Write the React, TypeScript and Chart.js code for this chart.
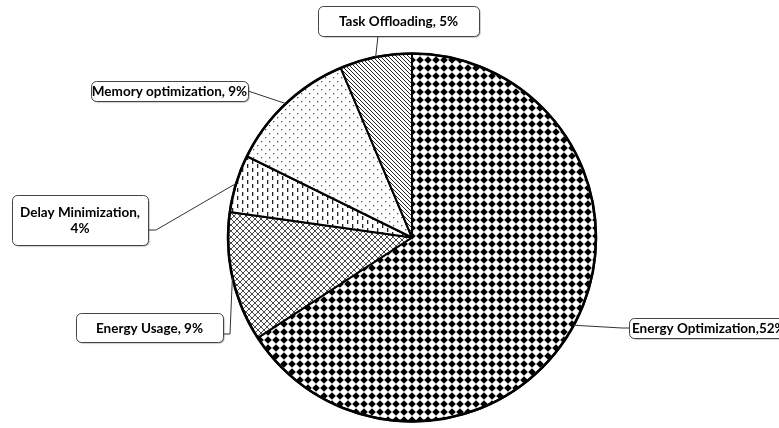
import { useEffect, useRef } from "react";
import { Chart, registerables } from "chart.js";

Chart.register(...registerables);

// Research-focus shares, clockwise from 12 o'clock
const categories = [
  "Energy Optimization",
  "Energy Usage",
  "Delay Minimization",
  "Memory optimization",
  "Task Offloading",
];
const shares = [52, 9, 4, 9, 5];
// separator between the name and its percentage in each callout
const separators = [",", ", ", ", ", ", ", ", "];

type Callout = {
  x: number;
  y: number;
  w: number;
  h: number;
  align: "left" | "center";
  from: [number, number];
  bend?: [number, number];
  wrap?: boolean;
};

// Callout boxes and where their leader lines leave them
const callouts: Callout[] = [
  { x: 629, y: 318, w: 170, h: 20, align: "left", from: [629, 328], bend: [622, 328] },
  { x: 76, y: 313, w: 147, h: 29, align: "center", from: [223, 334], bend: [230, 334] },
  { x: 12, y: 195, w: 136, h: 50, align: "center", from: [148, 230], bend: [156, 230], wrap: true },
  { x: 91, y: 81, w: 157, h: 20, align: "center", from: [248, 91] },
  { x: 318, y: 6, w: 161, h: 30, align: "center", from: [378, 36] },
];

const FONT = "bold 13.5px Lato, 'Open Sans', sans-serif";

function makeTile(w: number, h: number, draw: (c: CanvasRenderingContext2D) => void) {
  const tile = document.createElement("canvas");
  tile.width = w;
  tile.height = h;
  const c = tile.getContext("2d")!;
  c.fillStyle = "#fff";
  c.fillRect(0, 0, w, h);
  draw(c);
  return tile;
}

function makePatterns(ctx: CanvasRenderingContext2D) {
  // solid diamonds
  const diamonds = makeTile(8, 8, (c) => {
    c.fillStyle = "#000";
    c.beginPath();
    c.moveTo(4, 0.2);
    c.lineTo(7.8, 4);
    c.lineTo(4, 7.8);
    c.lineTo(0.2, 4);
    c.closePath();
    c.fill();
  });
  // outlined diamond cross-hatch
  const hatch = makeTile(6, 6, (c) => {
    c.strokeStyle = "#333";
    c.lineWidth = 0.9;
    c.beginPath();
    c.moveTo(-1, -1);
    c.lineTo(7, 7);
    c.moveTo(7, -1);
    c.lineTo(-1, 7);
    c.stroke();
  });
  // staggered vertical dashes
  const dashes = makeTile(10, 8, (c) => {
    c.fillStyle = "#222";
    c.fillRect(2, 0, 1.3, 4);
    c.fillRect(7, 4, 1.3, 4);
  });
  // sparse dots
  const dots = makeTile(8, 8, (c) => {
    c.fillStyle = "#555";
    c.fillRect(1, 1, 1.3, 1.3);
    c.fillRect(5, 5, 1.3, 1.3);
  });
  // wide downward diagonal
  const diag = makeTile(4, 4, (c) => {
    c.strokeStyle = "#222";
    c.lineWidth = 1;
    c.beginPath();
    c.moveTo(-1, -1);
    c.lineTo(5, 5);
    c.moveTo(3, -1);
    c.lineTo(5, 1);
    c.moveTo(-1, 3);
    c.lineTo(1, 5);
    c.stroke();
  });
  return [diamonds, hatch, dashes, dots, diag].map(
    (t) => ctx.createPattern(t, "repeat") as CanvasPattern
  );
}

function roundRect(c: CanvasRenderingContext2D, x: number, y: number, w: number, h: number, r: number) {
  c.beginPath();
  c.moveTo(x + r, y);
  c.lineTo(x + w - r, y);
  c.arcTo(x + w, y, x + w, y + r, r);
  c.lineTo(x + w, y + h - r);
  c.arcTo(x + w, y + h, x + w - r, y + h, r);
  c.lineTo(x + r, y + h);
  c.arcTo(x, y + h, x, y + h - r, r);
  c.lineTo(x, y + r);
  c.arcTo(x, y, x + r, y, r);
  c.closePath();
}

const calloutPlugin = {
  id: "callouts",
  afterDatasetsDraw(chart: Chart) {
    const c = chart.ctx;
    const arcs = chart.getDatasetMeta(0).data as any[];
    // heavier outer rim
    if (arcs.length) {
      const a0 = arcs[0].getProps(["x", "y", "outerRadius"], true);
      c.save();
      c.strokeStyle = "#000";
      c.lineWidth = 2.6;
      c.beginPath();
      c.arc(a0.x, a0.y, a0.outerRadius, 0, Math.PI * 2);
      c.stroke();
      c.restore();
    }
    c.save();
    // leader lines
    c.strokeStyle = "#333";
    c.lineWidth = 1;
    arcs.forEach((arc, i) => {
      const p = arc.getProps(["x", "y", "startAngle", "endAngle", "outerRadius"], true);
      const mid = (p.startAngle + p.endAngle) / 2;
      const ex = p.x + Math.cos(mid) * p.outerRadius;
      const ey = p.y + Math.sin(mid) * p.outerRadius;
      const co = callouts[i];
      c.beginPath();
      c.moveTo(co.from[0], co.from[1]);
      if (co.bend) c.lineTo(co.bend[0], co.bend[1]);
      c.lineTo(ex, ey);
      c.stroke();
    });
    // boxes and text
    c.font = FONT;
    c.textBaseline = "middle";
    callouts.forEach((co, i) => {
      c.save();
      c.shadowColor = "rgba(0,0,0,0.35)";
      c.shadowOffsetX = 1;
      c.shadowOffsetY = 1;
      c.shadowBlur = 1;
      roundRect(c, co.x + 0.5, co.y + 0.5, co.w, co.h, 5);
      c.fillStyle = "#fff";
      c.fill();
      c.restore();
      roundRect(c, co.x + 0.5, co.y + 0.5, co.w, co.h, 5);
      c.strokeStyle = "#444";
      c.lineWidth = 1;
      c.stroke();

      const lines = co.wrap
        ? [categories[i] + separators[i].trim(), shares[i] + "%"]
        : [categories[i] + separators[i] + shares[i] + "%"];
      c.fillStyle = "#000";
      c.textAlign = co.align;
      const lh = 16;
      const cy = co.y + co.h / 2 + 1 - ((lines.length - 1) * lh) / 2;
      const tx = co.align === "left" ? co.x + 3 : co.x + co.w / 2;
      lines.forEach((ln, k) => c.fillText(ln, tx, cy + k * lh));
    });
    c.restore();
  },
};

export default function App() {
  const ref = useRef<HTMLCanvasElement | null>(null);

  useEffect(() => {
    const canvas = ref.current;
    if (!canvas) return;
    const ctx = canvas.getContext("2d")!;
    const patterns = makePatterns(ctx);
    const chart = new Chart(canvas, {
      type: "pie",
      data: {
        labels: categories,
        datasets: [
          {
            data: shares,
            backgroundColor: patterns,
            borderColor: "#000",
            borderWidth: 2,
            borderAlign: "center",
          },
        ],
      },
      options: {
        animation: false,
        responsive: false,
        devicePixelRatio: 1,
        radius: 184,
        layout: { padding: { left: 45, right: 0, top: 47, bottom: 0 } },
        plugins: {
          legend: { display: false },
          tooltip: { enabled: false },
        },
      },
      plugins: [calloutPlugin],
    });
    return () => chart.destroy();
  }, []);

  return (
    <div style={{ position: "fixed", left: 0, top: 0, width: 779, height: 428, background: "#fff" }}>
      <canvas ref={ref} width={779} height={428} style={{ width: 779, height: 428 }} />
    </div>
  );
}
